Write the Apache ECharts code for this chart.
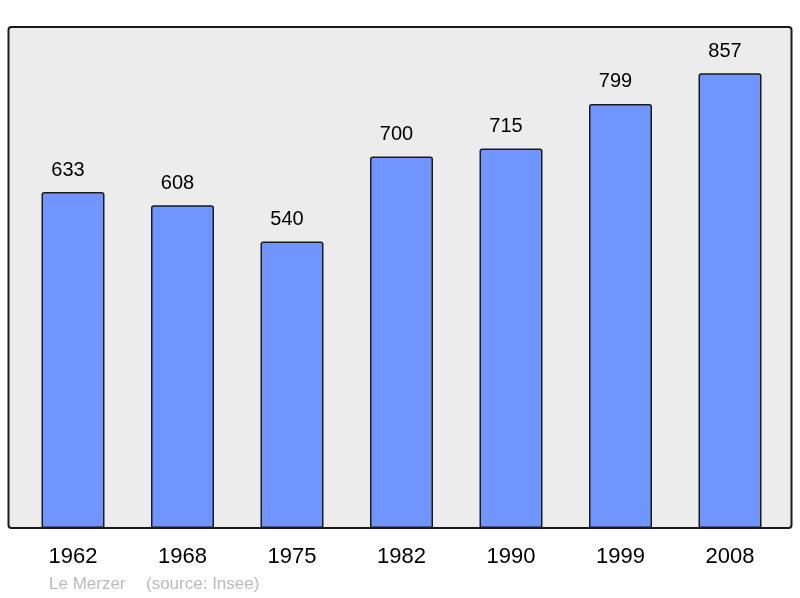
<!DOCTYPE html>
<html lang="fr">
<head>
    <meta charset="UTF-8">
    <title>Le Merzer</title>
    <script src="https://cdn.jsdelivr.net/npm/echarts@6/dist/echarts.min.js"></script>
</head>
<body style="margin:0;">
<div id="main" style="width: 800px;height:598px;"></div>
<script>
    // données
    let years = ['1962', '1968', '1975', '1982', '1990', '1999', '2008'];
    let population = [633, 608, 540, 700, 715, 799, 857];
    let placeName = 'Le Merzer';
    let sourceText = '(source: Insee)';

    let chart = echarts.init(document.getElementById('main'));
    let option = {
        animation: false,
        textStyle: {fontFamily: 'Liberation Sans'},
        graphic: [
            {
                type: 'rect',
                z: -10,
                shape: {x: 8.5, y: 27, width: 783, height: 501, r: 3},
                style: {fill: '#ececec', stroke: '#1a1a1a', lineWidth: 2}
            },
            {
                type: 'text',
                left: 49,
                top: 576,
                style: {text: placeName, fill: '#bbbbbb', font: '17px "Liberation Sans"'}
            },
            {
                type: 'text',
                left: 146,
                top: 576,
                style: {text: sourceText, fill: '#bbbbbb', font: '17px "Liberation Sans"'}
            }
        ],
        grid: {left: 18.25, right: 15.25, top: 27, bottom: 70},
        xAxis: {
            type: 'category',
            data: years,
            axisLine: {show: false},
            axisTick: {show: false},
            axisLabel: {color: '#000', fontSize: 22, margin: 18}
        },
        yAxis: {
            type: 'value',
            min: 0,
            max: 944,
            show: false,
            splitLine: {show: false}
        },
        series: [
            {
                type: 'bar',
                data: population,
                barWidth: 63,
                itemStyle: {
                    color: '#7095ff',
                    borderColor: '#1a1a1a',
                    borderWidth: 1.5,
                    borderRadius: [2, 2, 0, 0]
                },
                label: {
                    show: true,
                    position: 'top',
                    distance: 12,
                    offset: [-5, 0],
                    color: '#000',
                    fontSize: 20
                }
            }
        ]
    };
    chart.setOption(option);
</script>
</body>
</html>
